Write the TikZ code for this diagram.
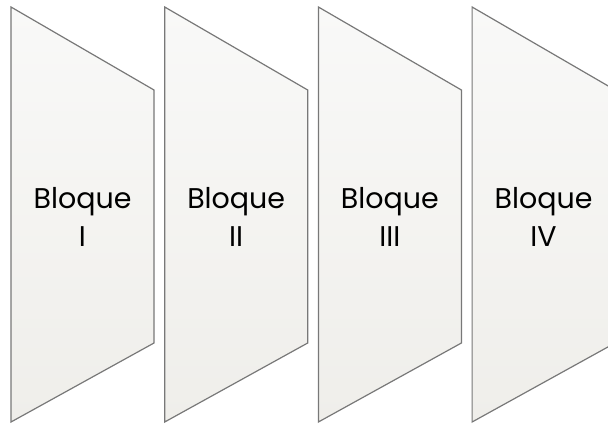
\documentclass[tikz,border=0pt]{standalone}
\usepackage{fontspec}
\setmainfont{Poppins}
\definecolor{edge}{RGB}{120,120,120}
\definecolor{topc}{RGB}{249,249,248}
\definecolor{botc}{RGB}{239,238,234}
\tikzset{
  blockshape/.style={draw=edge, line width=1.2pt, top color=topc, bottom color=botc, line join=miter},
  blocklabel/.style={align=center, font=\fontsize{28.5}{38}\selectfont, text=black, inner sep=0pt}
}
\begin{document}
\begin{tikzpicture}[x=1pt,y=-1pt]
\useasboundingbox (0,0) rectangle (608,425);
\foreach \i/\lab in {0/I,1/II,2/III,3/IV}{
  \pgfmathsetmacro{\xl}{11+153.7*\i}
  \pgfmathsetmacro{\xr}{\xl+143}
  \path[blockshape] (\xl,7) -- (\xr,90) -- (\xr,343) -- (\xl,422) -- cycle;
  \node[blocklabel] (b\i) at ({(\xl+\xr)/2},217) {Bloque\\\lab};
}
\end{tikzpicture}
\end{document}
